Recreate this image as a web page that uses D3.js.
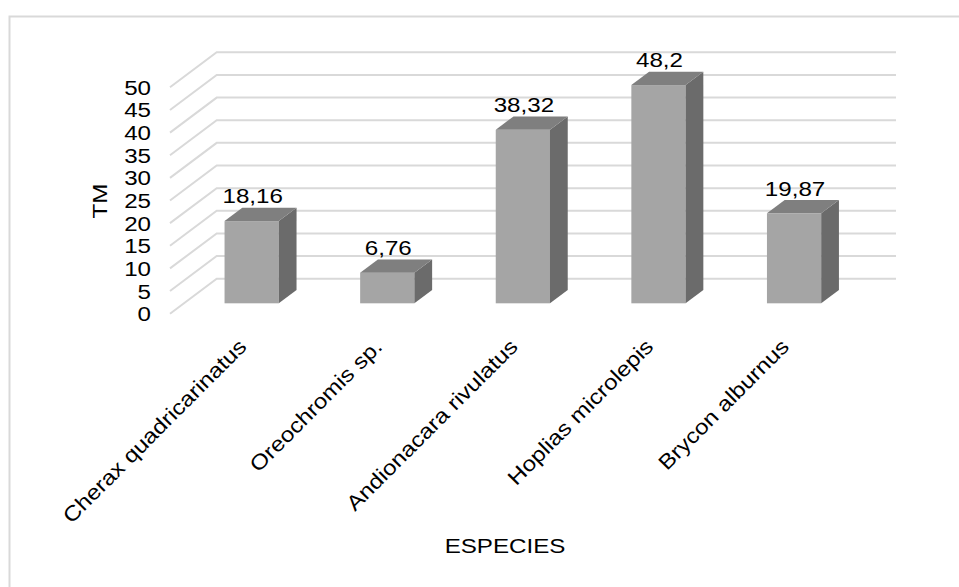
<!DOCTYPE html>
<html>
<head>
<meta charset="utf-8">
<script src="https://cdn.jsdelivr.net/npm/d3@7"></script>
<style>
  html, body { margin: 0; padding: 0; background: #fff; }
  svg { display: block; font-family: "Liberation Sans", Arial, sans-serif; }
</style>
</head>
<body>
<div id="chart"></div>
<script>
// datos del gráfico
const especies = ["Cherax quadricarinatus", "Oreochromis sp.", "Andionacara rivulatus", "Hoplias microlepis", "Brycon alburnus"];
const valores = [18.16, 6.76, 38.32, 48.2, 19.87];
const etiquetas = ["18,16", "6,76", "38,32", "48,2", "19,87"];
const ticks = [0, 5, 10, 15, 20, 25, 30, 35, 40, 45, 50];

const width = 959, height = 587;
const fs = 21, sx = 1.15; // letra algo ancha como en el original
const svg = d3.select("#chart").append("svg").attr("width", width).attr("height", height);

// texto ensanchado en su propia dirección
function label(sel, x, y, rot, anchor) {
  return sel.attr("transform", `translate(${x},${y}) rotate(${rot}) scale(${sx},1)`)
    .attr("text-anchor", anchor).attr("font-size", fs).attr("fill", "#000");
}

// marco
svg.append("rect").attr("x", 9.5).attr("y", 16.5).attr("width", 1000).attr("height", 1000)
  .attr("fill", "none").attr("stroke", "#d9d9d9").attr("stroke-width", 2);

// plano frontal y profundidad
const depth = { dx: 46.7, dy: -35 };
const wallRight = 896;
const x = d3.scaleBand().domain(especies).range([170, 848]).paddingInner(0.6).paddingOuter(0.3);
const y = d3.scaleLinear().domain([0, 50]).range([313.7, 87.3]);

// caja de la barra: frente a 30% de la profundidad, fondo al 68%
const f0 = 0.297, f1 = 0.677;
const bdx = (f1 - f0) * depth.dx, bdy = (f1 - f0) * depth.dy;

// rejilla (pared del fondo)
const grid = svg.append("g");
ticks.forEach(t => {
  const y0 = y(t);
  grid.append("path")
    .attr("d", `M170,${y0}L${170 + depth.dx},${y0 + depth.dy}L${wallRight},${y0 + depth.dy}`)
    .attr("fill", "none").attr("stroke", "#d9d9d9").attr("stroke-width", 2);
});

// etiquetas del eje Y
svg.append("g").selectAll("text").data(ticks).join("text")
  .each(function (d) { label(d3.select(this), 151, y(d) + 7.5, 0, "end"); })
  .text(d => d);

// barras 3D
const bars = svg.append("g").selectAll("g").data(especies).join("g");
bars.each(function (d, i) {
  const g = d3.select(this);
  const x0 = x(d) + f0 * depth.dx;
  const x1 = x0 + x.bandwidth();
  const yb = y(0) + f0 * depth.dy;
  const yt = y(valores[i]) + f0 * depth.dy;
  // frente
  g.append("rect").attr("x", x0).attr("y", yt).attr("width", x1 - x0).attr("height", yb - yt)
    .attr("fill", "#a5a5a5");
  // lado
  g.append("path")
    .attr("d", `M${x1},${yt}L${x1 + bdx},${yt + bdy}L${x1 + bdx},${yb + bdy}L${x1},${yb}Z`)
    .attr("fill", "#6b6b6b");
  // tapa
  g.append("path")
    .attr("d", `M${x0},${yt}L${x0 + bdx},${yt + bdy}L${x1 + bdx},${yt + bdy}L${x1},${yt}Z`)
    .attr("fill", "#7f7f7f");
  // valor
  label(g.append("text"), (x0 + x1) / 2 + 1, yt + bdy - 4.5, 0, "middle").text(etiquetas[i]);
});

// etiquetas de categorías
svg.append("g").selectAll("text").data(especies).join("text")
  .each(function (d) { label(d3.select(this), x(d) + x.bandwidth() / 2 + 10, 348, -45, "end"); })
  .text(d => d);

// títulos de ejes
label(svg.append("text"), 505, 553, 0, "middle").text("ESPECIES");
label(svg.append("text"), 107, 201, -90, "middle").text("TM");
</script>
</body>
</html>
